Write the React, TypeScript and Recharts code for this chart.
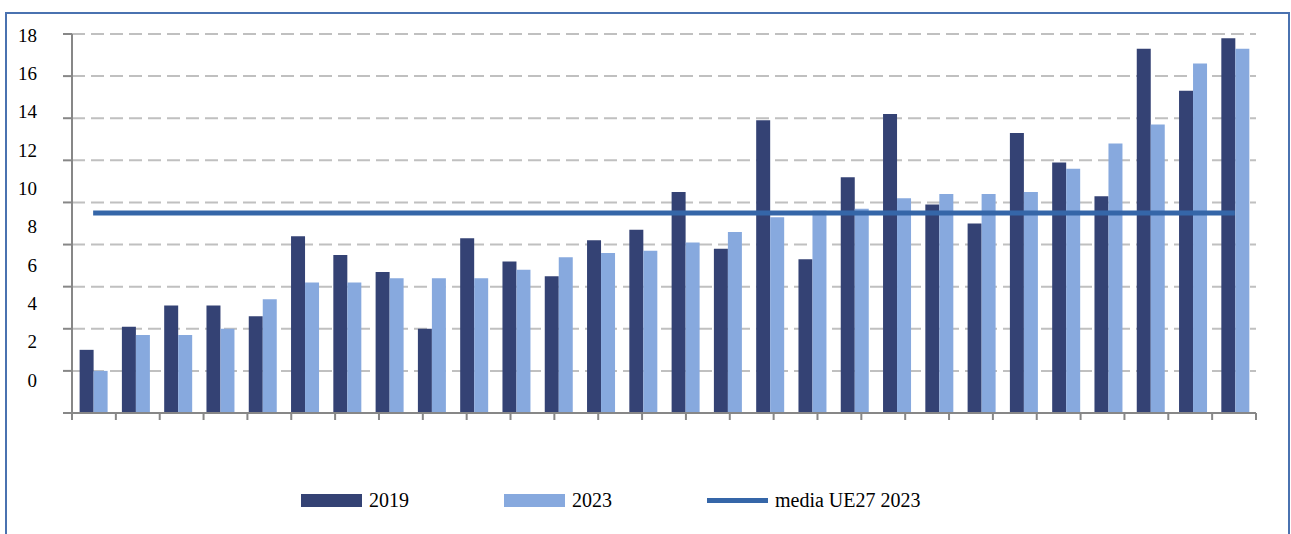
import { ComposedChart, Bar, Line, XAxis, YAxis, CartesianGrid, Legend } from "recharts";

// categories have no visible labels in the chart
const categories = [
  "1", "2", "3", "4", "5", "6", "7", "8", "9", "10", "11", "12", "13", "14",
  "15", "16", "17", "18", "19", "20", "21", "22", "23", "24", "25", "26", "27", "28",
];
const values2019 = [
  3.0, 4.1, 5.1, 5.1, 4.6, 8.4, 7.5, 6.7, 4.0, 8.3, 7.2, 6.5, 8.2, 8.7,
  10.5, 7.8, 13.9, 7.3, 11.2, 14.2, 9.9, 9.0, 13.3, 11.9, 10.3, 17.3, 15.3, 17.8,
];
const values2023 = [
  2.0, 3.7, 3.7, 4.0, 5.4, 6.2, 6.2, 6.4, 6.4, 6.4, 6.8, 7.4, 7.6, 7.7,
  8.1, 8.6, 9.3, 9.6, 9.7, 10.2, 10.4, 10.4, 10.5, 11.6, 12.8, 13.7, 16.6, 17.3,
];
const mediaUE27 = 9.5;
const yTicks = [0, 2, 4, 6, 8, 10, 12, 14, 16, 18];

const data = categories.map((name, i) => ({
  name,
  y2019: values2019[i],
  y2023: values2023[i],
  media: mediaUE27,
}));

// tick marks on the x axis sit on the category boundaries
const boundaryTicks = [...categories.map((_, i) => i), categories.length];

// the printed tick labels are spaced tighter than the gridlines in the original
const LABEL_DOMAIN = [-1.72, 18.05];

const AXIS = "#878787";
const FONT = "Liberation Serif, Times New Roman, serif";

const renderLegend = (props: any) => {
  const { payload } = props;
  return (
    <div style={{ display: "flex", paddingLeft: 301, fontFamily: FONT, fontSize: 20, color: "#000" }}>
      {payload.map((entry: any) => (
        <div
          key={entry.value}
          style={{ width: 203, display: "flex", alignItems: "center", height: 24, whiteSpace: "nowrap" }}
        >
          {entry.type === "line" ? (
            <div style={{ width: 61, height: 5, background: entry.color, flex: "none" }} />
          ) : (
            <div style={{ width: 61, height: 13, background: entry.color, flex: "none" }} />
          )}
          <span style={{ marginLeft: 7 }}>{entry.value}</span>
        </div>
      ))}
    </div>
  );
};

const App = () => {
  return (
    <div style={{ position: "absolute", left: 0, top: 0, width: 1291, height: 534, overflow: "hidden", background: "#fff" }}>
      <ComposedChart
        width={1291}
        height={534}
        data={data}
        margin={{ top: 34, right: 35, bottom: 101, left: 0 }}
        barCategoryGap="18%"
        barGap={0}
      >
        <CartesianGrid vertical={false} stroke="#C0C0C0" strokeWidth={2} strokeDasharray="13 6" />
        <XAxis
          xAxisId="bounds"
          type="number"
          domain={[0, categories.length]}
          ticks={boundaryTicks}
          allowDataOverflow
          height={20}
          tickSize={7}
          tickFormatter={() => ""}
          stroke={AXIS}
          axisLine={{ stroke: AXIS, strokeWidth: 2 }}
          tickLine={{ stroke: AXIS, strokeWidth: 2 }}
        />
        <XAxis dataKey="name" hide height={0} />
        <YAxis
          domain={[0, 18]}
          ticks={yTicks}
          width={35}
          tickSize={9}
          tickFormatter={() => ""}
          stroke={AXIS}
          axisLine={{ stroke: AXIS, strokeWidth: 2 }}
          tickLine={{ stroke: AXIS, strokeWidth: 2 }}
        />
        <YAxis
          yAxisId="labels"
          domain={LABEL_DOMAIN}
          allowDataOverflow
          ticks={yTicks}
          width={37}
          axisLine={false}
          tickLine={false}
          tickSize={0}
          tickMargin={0}
          tick={{ fill: "#000", fontSize: 19, fontFamily: FONT }}
        />
        <Legend
          layout="horizontal"
          verticalAlign="middle"
          align="center"
          content={renderLegend}
          wrapperStyle={{ top: 488, left: 0, width: 1291 }}
        />
        <Bar dataKey="y2019" name="2019" fill="#344274" isAnimationActive={false} />
        <Bar dataKey="y2023" name="2023" fill="#87A9DE" isAnimationActive={false} />
        <Line
          dataKey="media"
          name="media UE27 2023"
          stroke="#3566A8"
          strokeWidth={5}
          dot={false}
          activeDot={false}
          isAnimationActive={false}
        />
      </ComposedChart>
      <div
        style={{
          position: "absolute",
          left: 5,
          top: 12,
          width: 1285,
          height: 560,
          boxSizing: "border-box",
          border: "2px solid #4A72B0",
          pointerEvents: "none",
        }}
      />
    </div>
  );
};

export default App;
